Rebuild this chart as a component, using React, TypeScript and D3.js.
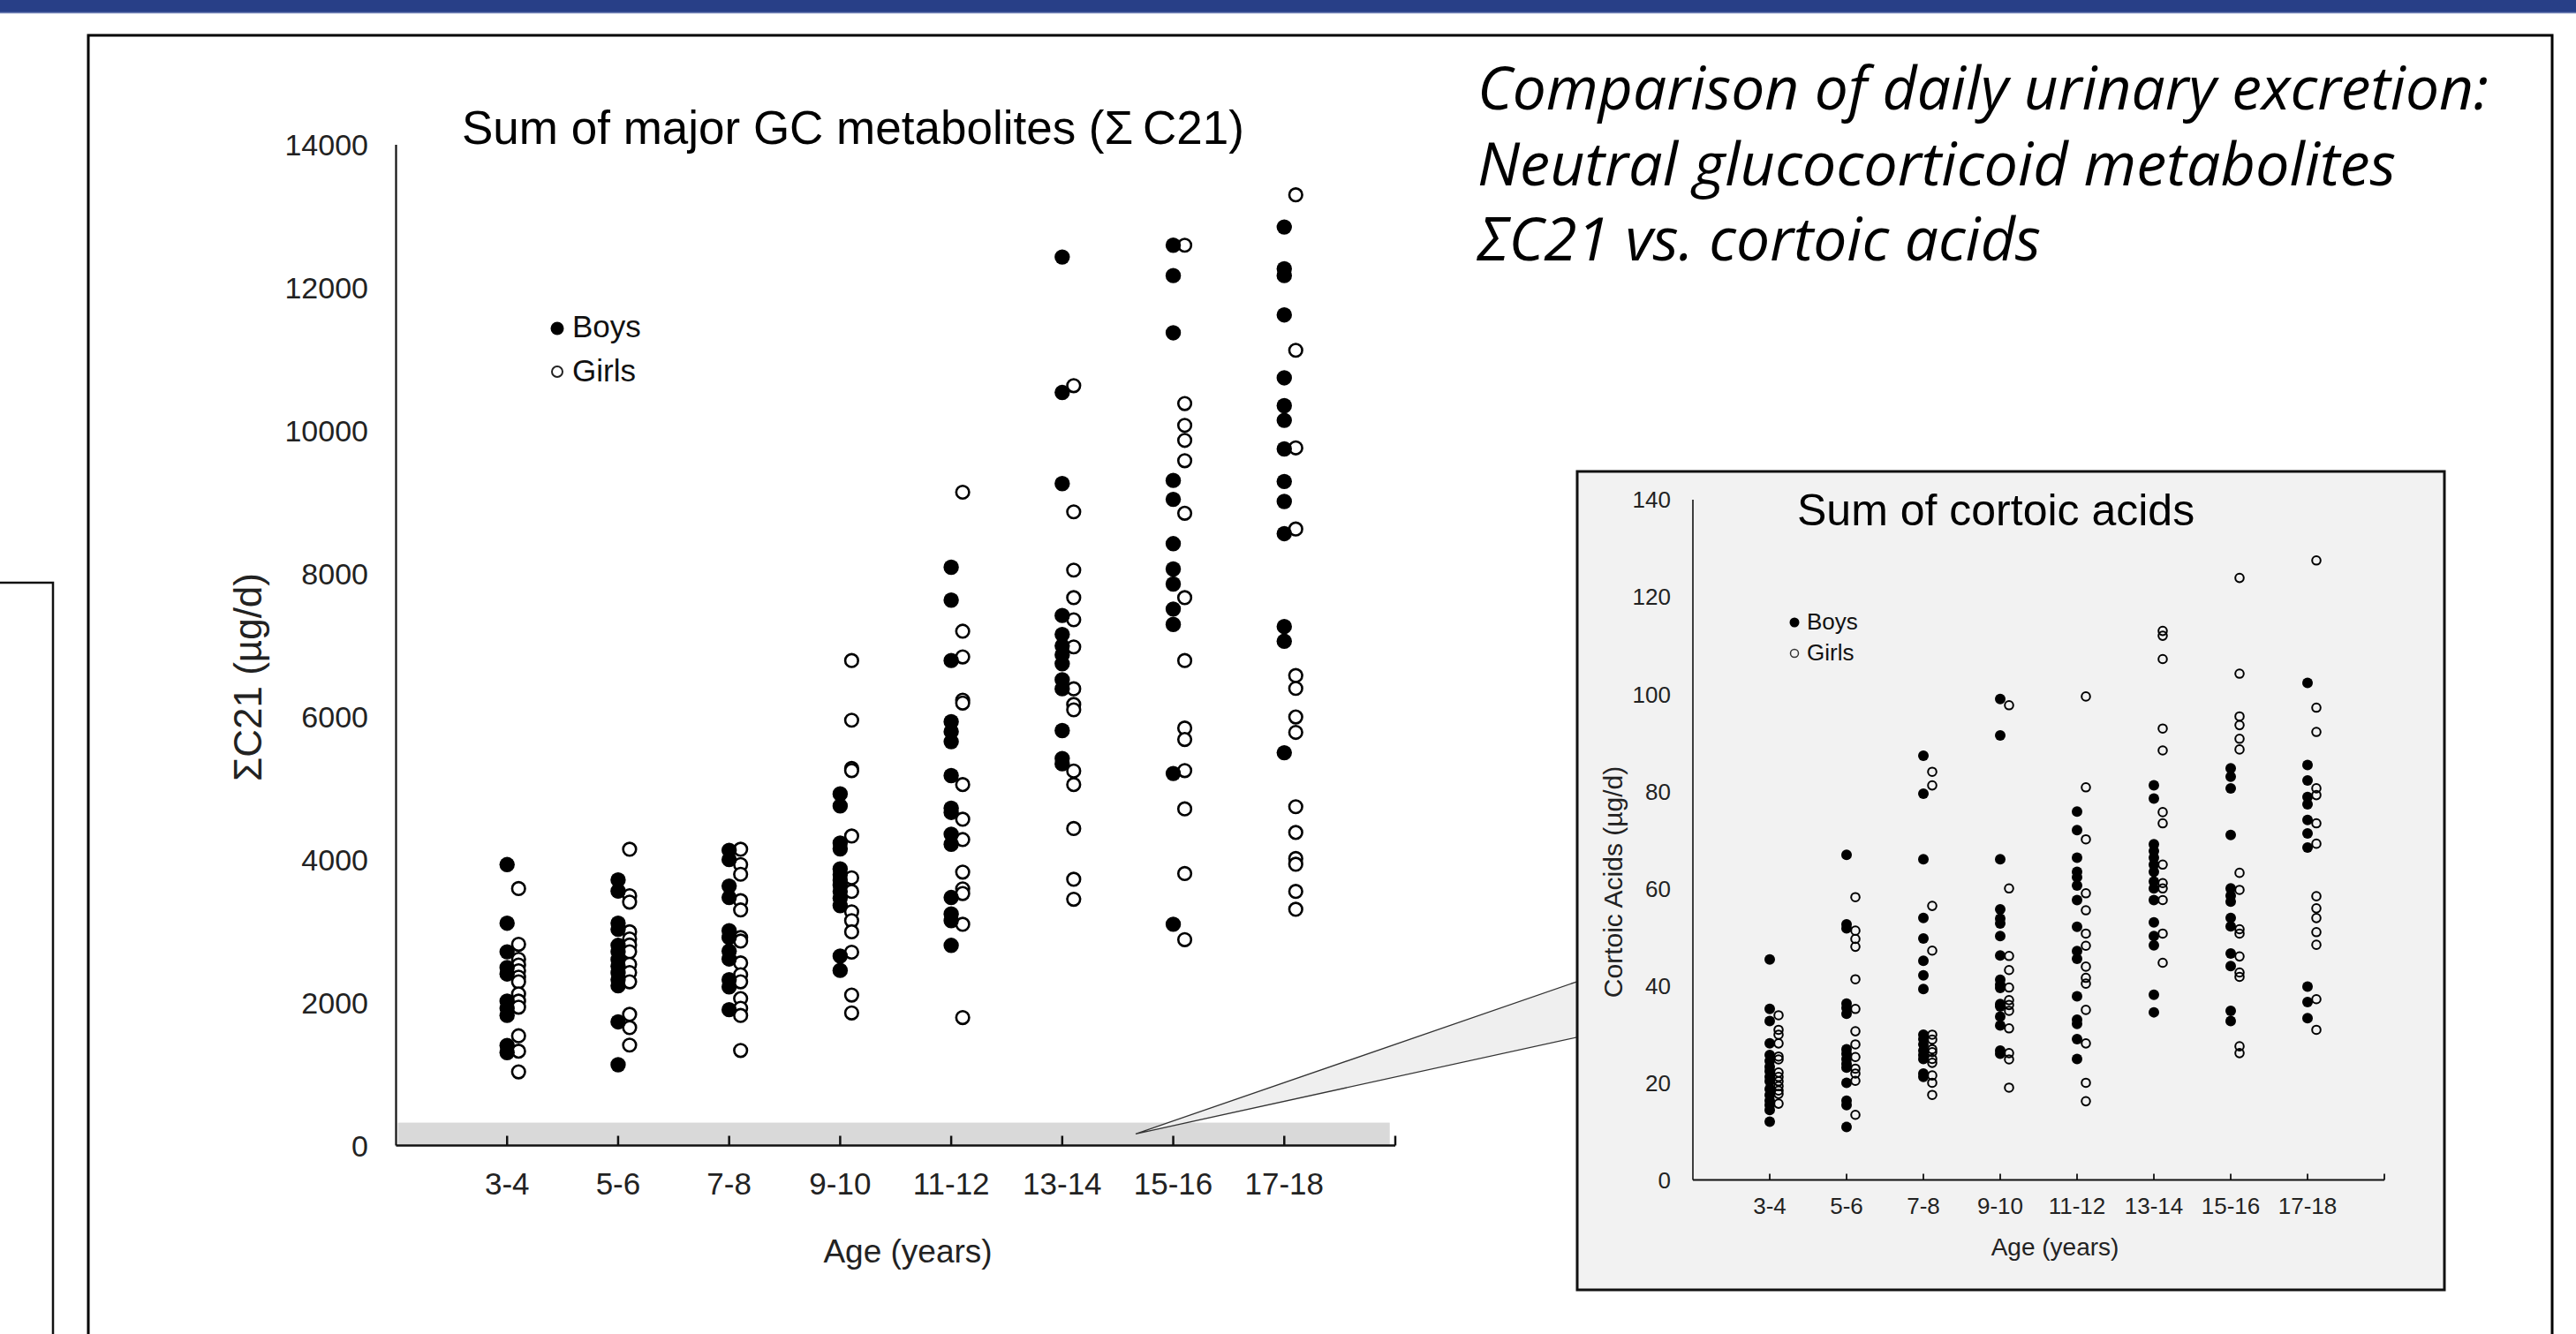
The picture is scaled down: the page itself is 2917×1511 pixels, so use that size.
import React from "react";
import * as d3 from "d3";

// age groups on both panels
const ageGroups = ["3-4", "5-6", "7-8", "9-10", "11-12", "13-14", "15-16", "17-18"];

// sum of major GC metabolites (µg/d)
const c21Boys = [
  [3930, 3110, 2710, 2490, 2400, 2020, 1920, 1820, 1400, 1300],
  [3715, 3560, 3110, 3025, 2800, 2710, 2600, 2510, 2415, 2320, 2235, 1730, 1130],
  [4130, 4000, 3630, 3470, 3005, 2910, 2720, 2610, 2320, 2220, 1900],
  [4920, 4750, 4230, 4150, 3870, 3790, 3710, 3640, 3555, 3460, 3355, 2650, 2450],
  [8090, 7630, 6785, 5930, 5790, 5650, 5175, 4720, 4660, 4355, 4215, 3470, 3240, 3145, 2800],
  [12430, 10535, 9260, 7415, 7150, 6990, 6865, 6740, 6515, 6390, 5805, 5415, 5340],
  [12595, 12170, 11370, 9305, 9040, 8420, 8065, 7855, 7505, 7290, 5205, 3095],
  [12850, 12265, 12170, 11620, 10740, 10350, 10145, 9745, 9290, 9010, 8560, 7260, 7055, 5495],
];
const c21Girls = [
  [3595, 2815, 2605, 2525, 2445, 2355, 2290, 2120, 2020, 1935, 1535, 1320, 1030],
  [4145, 3495, 3405, 2990, 2890, 2805, 2710, 2535, 2420, 2290, 1835, 1650, 1405],
  [4145, 3930, 3795, 3425, 3295, 2910, 2860, 2555, 2390, 2290, 2055, 1920, 1820, 1330],
  [6785, 5950, 5275, 5245, 4330, 3745, 3555, 3270, 3145, 2990, 2705, 2105, 1855],
  [9140, 7195, 6835, 6230, 6190, 5050, 4565, 4280, 3825, 3590, 3525, 3095, 1790],
  [10630, 8865, 8050, 7665, 7355, 6975, 6390, 6170, 6095, 5240, 5050, 4435, 3725, 3445],
  [12595, 10380, 10075, 9865, 9580, 8845, 7665, 6785, 5840, 5680, 5245, 4710, 3805, 2880],
  [13300, 11125, 9760, 8625, 6575, 6395, 5995, 5780, 4740, 4380, 4015, 3935, 3555, 3305],
];

// sum of cortoic acids (µg/d), inset panel
const caBoys = [
  [45.4, 35.2, 32.7, 28.1, 25.7, 24.5, 23.3, 22.4, 21.2, 20.3, 18.7, 17.5, 16.3, 15.4, 14.4, 12.0],
  [66.9, 52.6, 51.8, 36.3, 35.4, 34.2, 26.9, 26.0, 24.9, 23.9, 23.1, 20.0, 16.3, 15.4, 10.9],
  [87.3, 79.5, 66.0, 53.9, 49.7, 45.1, 42.1, 39.3, 29.9, 29.0, 27.9, 26.6, 25.7, 24.9, 21.9, 21.2],
  [99.0, 91.5, 66.0, 55.7, 53.8, 52.8, 50.2, 46.2, 41.2, 40.2, 39.5, 36.2, 35.7, 33.6, 31.8, 26.6, 26.0],
  [75.8, 72.0, 66.3, 63.4, 62.3, 60.6, 57.6, 52.1, 47.1, 45.5, 37.8, 33.0, 32.1, 29.0, 24.9],
  [81.2, 78.5, 69.1, 67.7, 66.3, 64.9, 63.4, 61.4, 60.0, 57.6, 53.0, 50.2, 48.3, 38.1, 34.5],
  [84.7, 83.0, 80.6, 71.0, 60.0, 58.5, 57.3, 53.9, 52.2, 46.6, 44.0, 34.8, 32.7],
  [102.3, 85.4, 82.2, 78.8, 77.3, 74.1, 71.3, 68.4, 39.8, 36.6, 33.3],
];
const caGirls = [
  [33.9, 30.9, 29.9, 28.1, 25.4, 24.8, 22.1, 21.2, 20.3, 19.3, 18.4, 17.7, 15.7],
  [58.2, 51.3, 49.6, 48.0, 41.3, 35.2, 30.6, 27.9, 25.3, 22.9, 21.9, 20.4, 13.4],
  [84.0, 81.2, 56.4, 47.2, 29.9, 28.9, 26.9, 26.3, 24.9, 24.1, 21.5, 20.0, 17.5],
  [97.7, 60.0, 46.1, 43.2, 39.6, 37.0, 36.0, 34.8, 31.2, 26.1, 24.8, 19.0],
  [99.5, 80.8, 70.1, 59.0, 55.5, 50.7, 48.2, 43.9, 41.6, 40.4, 35.0, 28.1, 20.0, 16.2],
  [113.0, 112.0, 107.2, 92.9, 88.4, 75.7, 73.4, 64.9, 61.1, 60.0, 57.6, 50.7, 44.7],
  [123.9, 104.2, 95.4, 93.6, 90.8, 88.6, 63.2, 59.7, 51.6, 50.7, 46.0, 42.7, 41.8, 27.5, 26.1],
  [127.5, 97.2, 92.2, 80.6, 79.2, 73.4, 69.2, 58.4, 55.9, 53.9, 51.0, 48.4, 37.2, 30.9],
];

const headline = [
  "Comparison of daily urinary excretion:",
  "Neutral glucocorticoid metabolites",
  "ΣC21 vs. cortoic acids",
];

const FONT = "'Liberation Sans', Arial, sans-serif";

function App() {
  const W = 2917;
  const H = 1511;

  // main panel scales (categories sit at 1..8 on a 0..9 axis)
  const x = d3.scaleLinear().domain([0, 9]).range([448.5, 1580]);
  const y = d3.scaleLinear().domain([0, 14000]).range([1297.5, 164]);

  // inset scales
  const xi = d3.scaleLinear().domain([0, 9]).range([1917, 2700]);
  const yi = d3.scaleLinear().domain([0, 140]).range([1336.5, 566]);

  const catTicks = d3.range(1, 10);

  return (
    <svg
      width={W}
      height={H}
      style={{ position: "absolute", left: 0, top: 0, background: "#fff" }}
    >
      {/* header stripe */}
      <rect x={0} y={0} width={W} height={14} fill="#283f87" />
      <line x1={0} x2={W} y1={14.5} y2={14.5} stroke="#7384b8" strokeWidth={1.5} />

      {/* slide frames */}
      <path d="M100,1530V40H2890V1530" fill="none" stroke="#000" strokeWidth={3} />
      <path d="M0,660H60V1530" fill="none" stroke="#111" strokeWidth={2.5} />

      {/* headline */}
      {headline.map((t, i) => (
        <text
          key={t}
          x={1673}
          y={124 + i * 85.5}
          fontFamily="'Open Sans', 'Noto Sans', sans-serif"
          fontStyle="italic"
          fontSize={67}
          textLength={[1145, 1040, 638][i]}
          lengthAdjust="spacingAndGlyphs"
          fill="#000"
        >
          {t}
        </text>
      ))}

      {/* ---- main panel ---- */}
      <text x={523} y={163} fontFamily={FONT} fontSize={53} fill="#000">
        Sum of major GC metabolites (Σ{"\u2009"}C21)
      </text>

      <rect
        x={x(0) + 2}
        y={y(320)}
        width={x(8.95) - x(0) - 2}
        height={y(0) - y(320)}
        fill="#d9d9d9"
      />

      {y.ticks(7).map((t) => (
        <text
          key={t}
          x={417}
          y={y(t)}
          dy="0.36em"
          textAnchor="end"
          fontFamily={FONT}
          fontSize={34}
          fill="#222"
        >
          {t}
        </text>
      ))}

      <line x1={x(0)} x2={x(0)} y1={y(14000)} y2={y(0)} stroke="#111" strokeWidth={2.2} />
      <line x1={x(0)} x2={x(9)} y1={y(0)} y2={y(0)} stroke="#111" strokeWidth={2.5} />
      {catTicks.map((t) => (
        <line key={t} x1={x(t)} x2={x(t)} y1={y(0)} y2={y(0) - 11} stroke="#111" strokeWidth={2.5} />
      ))}
      {ageGroups.map((g, i) => (
        <text
          key={g}
          x={x(i + 1)}
          y={1353}
          textAnchor="middle"
          fontFamily={FONT}
          fontSize={35}
          fill="#222"
        >
          {g}
        </text>
      ))}
      <text x={1028} y={1430} textAnchor="middle" fontFamily={FONT} fontSize={37} fill="#222">
        Age (years)
      </text>
      <text
        transform="translate(296,767) rotate(-90)"
        textAnchor="middle"
        fontFamily={FONT}
        fontSize={44}
        fill="#222"
      >
        ΣC21 (µg/d)
      </text>

      {/* legend */}
      <circle cx={631} cy={372} r={7.5} fill="#000" />
      <text x={648} y={382} fontFamily={FONT} fontSize={35} fill="#111">
        Boys
      </text>
      <circle cx={631} cy={421} r={6} fill="#fff" stroke="#222" strokeWidth={2} />
      <text x={648} y={432} fontFamily={FONT} fontSize={35} fill="#111">
        Girls
      </text>

      {/* callout wedge to the inset */}
      <polygon
        points="1286,1284.3 1786,1111.8 1786,1174.8"
        fill="#efefef"
        stroke="#333"
        strokeWidth={1.3}
      />

      {c21Girls.map((vals, i) =>
        vals.map((v, j) => (
          <circle
            key={`g${i}-${j}`}
            cx={x(i + 1) + 13}
            cy={y(v)}
            r={7.3}
            fill="#fff"
            stroke="#000"
            strokeWidth={2.6}
          />
        ))
      )}
      {c21Boys.map((vals, i) =>
        vals.map((v, j) => (
          <circle key={`b${i}-${j}`} cx={x(i + 1)} cy={y(v)} r={8.7} fill="#000" />
        ))
      )}

      {/* ---- inset panel ---- */}
      <rect x={1786} y={534} width={982} height={927} fill="#f2f2f2" stroke="#111" strokeWidth={3} />

      <text x={2035} y={595} fontFamily={FONT} fontSize={50} fill="#000">
        Sum of cortoic acids
      </text>

      {yi.ticks(7).map((t) => (
        <text
          key={t}
          x={1892}
          y={yi(t)}
          dy="0.36em"
          textAnchor="end"
          fontFamily={FONT}
          fontSize={26}
          fill="#222"
        >
          {t}
        </text>
      ))}
      <line x1={xi(0)} x2={xi(0)} y1={yi(140)} y2={yi(0)} stroke="#111" strokeWidth={1.6} />
      <line x1={xi(0)} x2={xi(9)} y1={yi(0)} y2={yi(0)} stroke="#111" strokeWidth={2} />
      {catTicks.map((t) => (
        <line key={t} x1={xi(t)} x2={xi(t)} y1={yi(0)} y2={yi(0) - 7} stroke="#111" strokeWidth={1.8} />
      ))}
      {ageGroups.map((g, i) => (
        <text
          key={g}
          x={xi(i + 1)}
          y={1375}
          textAnchor="middle"
          fontFamily={FONT}
          fontSize={26}
          fill="#222"
        >
          {g}
        </text>
      ))}
      <text x={2327} y={1422} textAnchor="middle" fontFamily={FONT} fontSize={28} fill="#222">
        Age (years)
      </text>
      <text
        transform="translate(1837,999) rotate(-90)"
        textAnchor="middle"
        fontFamily={FONT}
        fontSize={30}
        fill="#222"
      >
        Cortoic Acids (µg/d)
      </text>

      <circle cx={2032} cy={705} r={5.5} fill="#000" />
      <text x={2046} y={713} fontFamily={FONT} fontSize={26} fill="#111">
        Boys
      </text>
      <circle cx={2032} cy={740} r={4.5} fill="none" stroke="#333" strokeWidth={1.5} />
      <text x={2046} y={748} fontFamily={FONT} fontSize={26} fill="#111">
        Girls
      </text>

      {caGirls.map((vals, i) =>
        vals.map((v, j) => (
          <circle
            key={`cg${i}-${j}`}
            cx={xi(i + 1) + 10}
            cy={yi(v)}
            r={4.8}
            fill="none"
            stroke="#000"
            strokeWidth={2}
          />
        ))
      )}
      {caBoys.map((vals, i) =>
        vals.map((v, j) => (
          <circle key={`cb${i}-${j}`} cx={xi(i + 1)} cy={yi(v)} r={6} fill="#000" />
        ))
      )}
    </svg>
  );
}

export default App;
